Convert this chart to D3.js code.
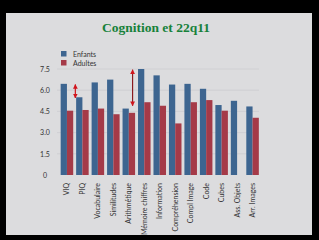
<!DOCTYPE html>
<html><head><meta charset="utf-8">
<script src="https://cdn.jsdelivr.net/npm/d3@7"></script>
<style>html,body{margin:0;padding:0;background:#000;}svg{display:block;}</style>
</head><body>
<script>
const categories = ["VIQ","PIQ","Vocabulaire","Similitudes","Arithmétique","Mémoire chiffres","Information","Compréhension","Compl Image","Code","Cubes","Ass. Objets","Arr. Images"];
const enfants = [6.45, 5.5, 6.55, 6.75, 4.7, 7.5, 7.05, 6.4, 6.45, 6.1, 4.95, 5.25, 4.85];
const adultes = [4.55, 4.6, 4.7, 4.3, 4.4, 5.15, 4.9, 3.65, 5.15, 5.3, 4.55, null, 4.05];
const seriesNames = ["Enfants","Adultes"];
const yTicks = [0, 1.5, 3.0, 4.5, 6.0, 7.5];
const yTickLabels = ["0","1.5","3.0","4.5","6.0","7.5"];
const arrows = [{cat:"PIQ", from:6.4, to:5.45}, {cat:"Arithmétique", from:7.45, to:4.9}];
const title = "Cognition et 22q11";

const W=319,H=240;
const svg=d3.select("body").append("svg").attr("width",W).attr("height",H);
svg.append("rect").attr("width",W).attr("height",H).attr("fill","#000");
svg.append("rect").attr("x",6).attr("y",13).attr("width",306).attr("height",222).attr("fill","#dcdcde");

svg.append("text").attr("x",156).attr("y",32).attr("text-anchor","middle")
  .attr("font-family","Liberation Serif").attr("font-weight","bold").attr("font-size",13.5)
  .attr("fill","#17813a").text(title);

const y=d3.scaleLinear().domain([0,7.5]).range([175,69]);
const x=d3.scaleBand().domain(categories).range([59.2,260.3]).paddingInner(0.19).paddingOuter(0.095);
const x1=d3.scaleBand().domain(seriesNames).range([0,x.bandwidth()]);
const colors={Enfants:"#3d6590",Adultes:"#a53a48"};

// gridlines
svg.append("g").selectAll("line").data(yTicks.slice(1)).join("line")
  .attr("x1",57).attr("x2",259).attr("y1",d=>y(d)).attr("y2",d=>y(d))
  .attr("stroke","#cdcdd0").attr("stroke-width",0.8);

// y axis
const yAxis=d3.axisLeft(y).tickValues(yTicks).tickFormat((d,i)=>yTickLabels[i]).tickSize(0).tickPadding(4);
const gy=svg.append("g").attr("transform","translate(52,0)").call(yAxis);
gy.select(".domain").remove();
gy.selectAll("text").attr("font-family","Lato").attr("font-size",7).attr("fill","#333").attr("text-anchor","middle").attr("dx",-3);

// bars
const g=svg.append("g");
categories.forEach((c,i)=>{
  [["Enfants",enfants[i]],["Adultes",adultes[i]]].forEach(([s,v])=>{
    if(v==null) return;
    g.append("rect").attr("x",x(c)+x1(s)).attr("y",y(v)).attr("width",x1.bandwidth()).attr("height",y(0)-y(v)).attr("fill",colors[s]);
  });
});

// x axis labels
const xAxis=d3.axisBottom(x).tickSize(0).tickPadding(0);
const gx=svg.append("g").attr("transform","translate(0,176)").call(xAxis);
gx.select(".domain").remove();
gx.selectAll("text").attr("font-family","Lato").attr("font-size",7).attr("fill","#333")
  .attr("text-anchor","end").attr("transform","rotate(-90)").attr("x",-7).attr("y",0).attr("dy","0.35em");

// legend
const leg=svg.append("g");
seriesNames.forEach((s,i)=>{
  leg.append("rect").attr("x",61).attr("y",51+i*9).attr("width",5.5).attr("height",5.5).attr("fill",colors[s]);
  leg.append("text").attr("x",73).attr("y",56.5+i*9).attr("font-family","Lato").attr("font-size",7).attr("fill","#333").text(s);
});

// arrows
const defs=svg.append("defs");
defs.append("marker").attr("id","ah").attr("viewBox","0 0 10 10").attr("refX",9).attr("refY",5)
  .attr("markerWidth",4).attr("markerHeight",4).attr("orient","auto-start-reverse")
  .append("path").attr("d","M0,0L10,5L0,10z").attr("fill","#d0141c");
arrows.forEach((a,i)=>{
  const cx = i===0 ? x(a.cat)-0.8 : x(a.cat)+x.bandwidth()*0.8;
  svg.append("line").attr("x1",cx).attr("x2",cx).attr("y1",y(a.from)).attr("y2",y(a.to))
    .attr("stroke", i===0?"#d0141c":"#8a1a1e").attr("stroke-width",1.2)
    .attr("marker-start","url(#ah)").attr("marker-end","url(#ah)");
});
</script>
</body></html>
